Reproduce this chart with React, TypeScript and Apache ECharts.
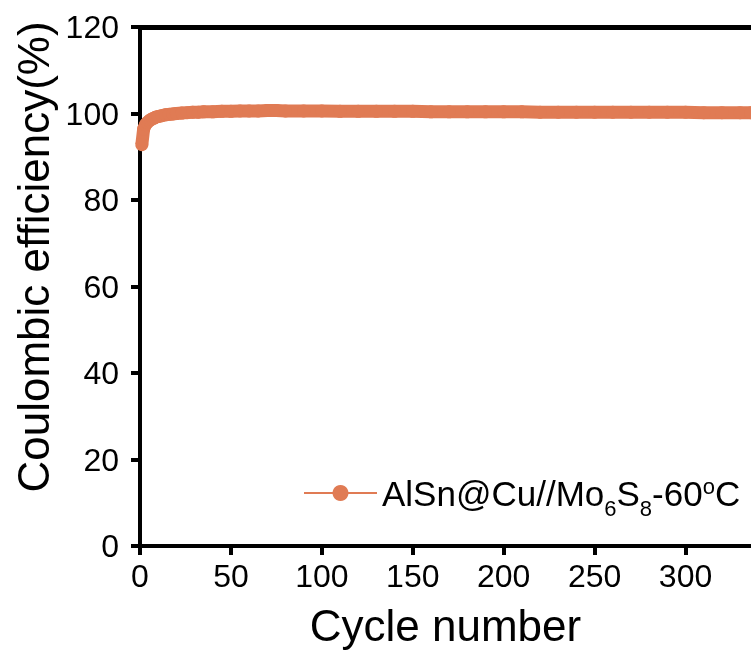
import React, { useEffect, useRef } from "react";
import * as echarts from "echarts";

const cycles = [1, 2, 3, 4, 5, 6, 7, 8, 9, 10, 12, 14, 16, 18, 20, 23, 26, 29, 32, 35, 40, 45, 50, 55, 60, 65, 70, 75, 80, 90, 100, 110, 120, 130, 140, 150, 160, 170, 180, 190, 200, 210, 220, 230, 240, 250, 260, 270, 280, 290, 300, 310, 320, 330, 336];
const efficiency = [92.8, 96.4, 97.4, 97.9, 98.3, 98.6, 98.8, 99.0, 99.2, 99.3, 99.5, 99.7, 99.8, 99.9, 100.0, 100.1, 100.2, 100.3, 100.3, 100.4, 100.4, 100.5, 100.5, 100.6, 100.6, 100.6, 100.7, 100.7, 100.6, 100.6, 100.6, 100.5, 100.5, 100.5, 100.5, 100.5, 100.4, 100.4, 100.4, 100.4, 100.4, 100.4, 100.3, 100.3, 100.3, 100.3, 100.3, 100.3, 100.3, 100.3, 100.3, 100.2, 100.2, 100.2, 100.2];
const xTicks = [0, 50, 100, 150, 200, 250, 300];
const yTicks = [0, 20, 40, 60, 80, 100, 120];
const seriesName = "AlSn@Cu//Mo6S8-60oC";
const yTitle = "Coulombic efficiency(%)";
const xTitle = "Cycle number";

export default function App() {
  const ref = useRef<HTMLDivElement>(null);
  useEffect(() => {
    if (!ref.current) return;
    const chart = echarts.init(ref.current, null, { renderer: "svg" });
    const color = "#E07B54";
    const font = "Liberation Sans, Arial, sans-serif";
    chart.setOption({
      animation: false,
      grid: { left: 140, top: 27, right: 0, bottom: 104, outerBoundsMode: "none", containLabel: false },
      legend: {
        left: 298,
        top: 470,
        itemWidth: 73,
        itemHeight: 20,
        data: [seriesName],
        formatter: () => "{n|AlSn@Cu//Mo}{s|6}{n|S}{s|8}{n|-60}{p|o}{n|C}",
        textStyle: {
          fontFamily: font,
          color: "#000",
          rich: {
            n: { fontSize: 35, fontFamily: font, color: "#000", verticalAlign: "bottom", lineHeight: 36 },
            s: { fontSize: 22, fontFamily: font, color: "#000", verticalAlign: "bottom", lineHeight: 24, padding: [0, 0, -8, 0] },
            p: { fontSize: 22, fontFamily: font, color: "#000", verticalAlign: "top", lineHeight: 20, padding: [0, 0, 14, 0] },
          },
        },
      },
      graphic: [
        {
          type: "text",
          x: 33,
          y: 257,
          rotation: Math.PI / 2,
          style: {
            text: yTitle,
            fontSize: 44,
            fontFamily: font,
            fill: "#000",
            align: "center",
            verticalAlign: "middle",
          },
        },
      ],
      xAxis: [
        {
          type: "value",
          min: 0,
          max: 336,
          interval: 50,
          name: xTitle,
          nameLocation: "middle",
          nameGap: 56,
          nameTextStyle: { fontSize: 44, fontFamily: font, color: "#000", lineHeight: 46 },
          axisLine: { lineStyle: { color: "#000", width: 4 } },
          axisTick: { length: 9, lineStyle: { color: "#000", width: 4 } },
          axisLabel: {
            fontSize: 32,
            fontFamily: font,
            color: "#000",
            margin: 14,
            showMaxLabel: false,
            formatter: (v: number) => (xTicks.includes(v) ? String(v) : ""),
          },
          splitLine: { show: false },
        },
        {
          type: "value",
          position: "top",
          min: 0,
          max: 336,
          axisLine: { show: true, lineStyle: { color: "#000", width: 5 } },
          axisTick: { show: false },
          axisLabel: { show: false },
          splitLine: { show: false },
        },
      ],
      yAxis: {
        type: "value",
        min: 0,
        max: 120,
        interval: 20,
        axisLine: { show: true, lineStyle: { color: "#000", width: 4 } },
        axisTick: { show: true, length: 9, lineStyle: { color: "#000", width: 4 } },
        axisLabel: {
          fontSize: 32,
          fontFamily: font,
          color: "#000",
          margin: 21,
          formatter: (v: number) => (yTicks.includes(v) ? String(v) : ""),
        },
        splitLine: { show: false },
      },
      series: [
        {
          name: seriesName,
          type: "line",
          data: cycles.map((c, i) => [c, efficiency[i]]),
          symbol: "circle",
          symbolSize: 13,
          showAllSymbol: true,
          color,
          lineStyle: { color, width: 13 },
          itemStyle: { color },
          clip: false,
        },
      ],
    });
    return () => chart.dispose();
  }, []);
  return <div ref={ref} style={{ position: "fixed", left: 0, top: 0, width: 751, height: 650 }} />;
}
